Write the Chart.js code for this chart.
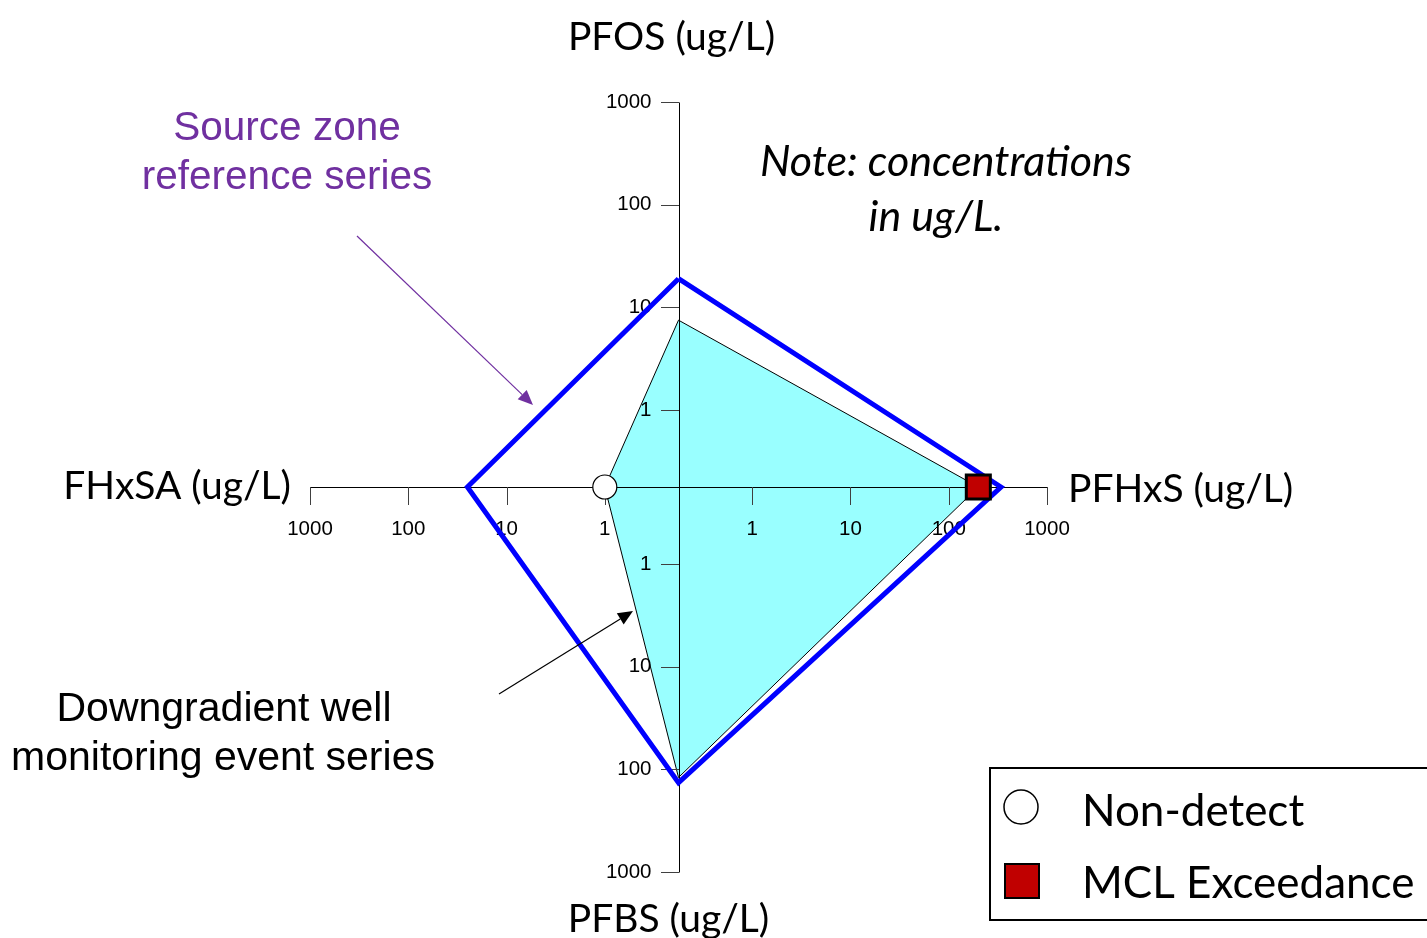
<!DOCTYPE html>
<html>
<head>
<meta charset="utf-8">
<script src="https://cdn.jsdelivr.net/npm/chart.js@4.4.1/dist/chart.umd.min.js"></script>
<style>
  html, body { margin: 0; padding: 0; background: #fff; }
  #wrap { position: relative; width: 1427px; height: 938px; overflow: hidden; }
</style>
</head>
<body>
<div id="wrap"><canvas id="c"></canvas></div>
<script>
// Four analytes, one per spoke: up, right, down, left
const categories = ['PFOS (ug/L)', 'PFHxS (ug/L)', 'PFBS (ug/L)', 'FHxSA (ug/L)'];
// Source zone reference series (ug/L)
const sourceZone = [19, 340, 135, 25];
// Downgradient well monitoring event series (ug/L)
const downgradient = [7.5, 200, 120, 1];
// Flags for the downgradient event
const nonDetect = [false, false, false, true];
const mclExceed = [false, true, false, false];
// Log tick marks on every spoke
const tickValues = [1, 10, 100, 1000];
const tickLabels = ['1', '10', '100', '1000'];

// spoke directions (x, y) for each category
const spokes = [[0, 1], [1, 0], [0, -1], [-1, 0]];
// the centre of the diagram sits 0.75 decade below 1 ug/L
const CENTER_DECADES = 0.75;
const MAX_R = Math.log10(1000) + CENTER_DECADES;

function radius(v) { return Math.log10(v) + CENTER_DECADES; }
function toPoint(v, i) {
  const r = radius(v);
  return { x: spokes[i][0] * r, y: spokes[i][1] * r };
}
function closedPolygon(values) {
  const pts = values.map(toPoint);
  pts.push(pts[0]);
  return pts;
}

const markerPoints = [], markerStyles = [], markerRadii = [], markerFill = [], markerBorder = [];
downgradient.forEach((v, i) => {
  if (nonDetect[i]) {
    markerPoints.push(toPoint(v, i)); markerStyles.push('circle');
    markerRadii.push(12); markerFill.push('#ffffff'); markerBorder.push(1.2);
  } else if (mclExceed[i]) {
    markerPoints.push(toPoint(v, i)); markerStyles.push('rect');
    markerRadii.push(17); markerFill.push('#C00000'); markerBorder.push(3);
  }
});

const CYAN_INDEX = 2;

function arrow(ctx, x1, y1, x2, y2, color) {
  ctx.save();
  ctx.strokeStyle = color; ctx.fillStyle = color; ctx.lineWidth = 1.2;
  const a = Math.atan2(y2 - y1, x2 - x1);
  const len = 15, half = 6.5;
  const bx = x2 - len * Math.cos(a), by = y2 - len * Math.sin(a);
  ctx.beginPath(); ctx.moveTo(x1, y1); ctx.lineTo(bx, by); ctx.stroke();
  ctx.beginPath();
  ctx.moveTo(x2, y2);
  ctx.lineTo(bx + half * Math.sin(a), by - half * Math.cos(a));
  ctx.lineTo(bx - half * Math.sin(a), by + half * Math.cos(a));
  ctx.closePath(); ctx.fill();
  ctx.restore();
}

const spokeAxes = {
  id: 'spokeAxes',
  afterDatasetDraw(chart, args) {
    if (args.index !== CYAN_INDEX) return;
    const ctx = chart.ctx, sx = chart.scales.x, sy = chart.scales.y;
    const x0 = sx.getPixelForValue(0), y0 = sy.getPixelForValue(0);
    ctx.save();
    ctx.strokeStyle = '#000'; ctx.lineWidth = 1;
    ctx.beginPath();
    ctx.moveTo(Math.round(sx.getPixelForValue(-MAX_R)) + 0.5, Math.round(y0) + 0.5);
    ctx.lineTo(Math.round(sx.getPixelForValue(MAX_R)) + 0.5, Math.round(y0) + 0.5);
    ctx.moveTo(Math.round(x0) + 0.5, Math.round(sy.getPixelForValue(MAX_R)) + 0.5);
    ctx.lineTo(Math.round(x0) + 0.5, Math.round(sy.getPixelForValue(-MAX_R)) + 0.5);
    ctx.stroke();
    ctx.strokeStyle = '#404040';
    ctx.beginPath();
    tickValues.forEach(v => {
      const r = radius(v);
      [-1, 1].forEach(s => {
        const tx = Math.round(sx.getPixelForValue(s * r)) + 0.5;
        ctx.moveTo(tx, Math.round(y0)); ctx.lineTo(tx, Math.round(y0) + 18);
        const ty = Math.round(sy.getPixelForValue(s * r)) + 0.5;
        ctx.moveTo(Math.round(x0) - 18, ty); ctx.lineTo(Math.round(x0), ty);
      });
    });
    ctx.stroke();
    ctx.fillStyle = '#000';
    ctx.font = '20.5px "Liberation Sans", Arial, sans-serif';
    tickValues.forEach((v, k) => {
      const r = radius(v);
      [-1, 1].forEach(s => {
        ctx.textAlign = 'center'; ctx.textBaseline = 'middle';
        ctx.fillText(tickLabels[k], sx.getPixelForValue(s * r), y0 + 42);
        ctx.textAlign = 'right';
        ctx.fillText(tickLabels[k], x0 - 27, sy.getPixelForValue(s * r));
      });
    });
    ctx.restore();
  },
  afterDraw(chart) {
    const ctx = chart.ctx, sx = chart.scales.x, sy = chart.scales.y;
    const x0 = sx.getPixelForValue(0), y0 = sy.getPixelForValue(0);
    ctx.save();
    // spoke titles
    ctx.fillStyle = '#000';
    ctx.font = '39px Lato, "Noto Sans", sans-serif';
    ctx.textBaseline = 'alphabetic';
    ctx.textAlign = 'center';
    ctx.fillText(categories[0], x0 - 7, 50);
    ctx.fillText(categories[2], x0 - 10, 932);
    ctx.textAlign = 'left';
    ctx.fillText(categories[1], sx.getPixelForValue(MAX_R) + 21, y0 + 15);
    ctx.textAlign = 'right';
    ctx.fillText(categories[3], sx.getPixelForValue(-MAX_R) - 19, y0 + 12);

    // series call-outs
    ctx.font = '40.5px "Liberation Sans", Arial, sans-serif';
    ctx.textAlign = 'center';
    ctx.fillStyle = '#7030A0';
    ctx.fillText('Source zone', 287, 140);
    ctx.fillText('reference series', 287, 189);
    arrow(ctx, 357, 236, 533, 405, '#7030A0');
    ctx.fillStyle = '#000';
    ctx.font = '41px "Liberation Sans", Arial, sans-serif';
    ctx.fillText('Downgradient well', 224, 721);
    ctx.fillText('monitoring event series', 223, 770);
    arrow(ctx, 499, 694, 633, 611, '#000');

    ctx.font = 'italic 43px Lato, "Noto Sans", sans-serif';
    ctx.fillText('Note: concentrations', 946, 176);
    ctx.fillText('in ug/L.', 936, 231);

    // legend box
    ctx.strokeStyle = '#000'; ctx.lineWidth = 2;
    ctx.strokeRect(990, 768, 460, 152);
    ctx.fillStyle = '#fff'; ctx.lineWidth = 1.5;
    ctx.beginPath(); ctx.arc(1021, 807, 17, 0, Math.PI * 2); ctx.fill(); ctx.stroke();
    ctx.fillStyle = '#C00000'; ctx.lineWidth = 2;
    ctx.fillRect(1005, 864, 34, 34); ctx.strokeRect(1005, 864, 34, 34);
    ctx.fillStyle = '#000';
    ctx.textAlign = 'left';
    ctx.font = '44px Lato, "Noto Sans", sans-serif';
    ctx.fillText('Non-detect', 1082, 826);
    ctx.fillText('MCL Exceedance', 1082, 898);
    ctx.restore();
  }
};

new Chart(document.getElementById('c'), {
  type: 'line',
  data: {
    datasets: [
      {
        label: 'Flags',
        data: markerPoints,
        showLine: false,
        pointStyle: markerStyles,
        pointRadius: markerRadii,
        pointBackgroundColor: markerFill,
        pointBorderColor: '#000',
        pointBorderWidth: markerBorder,
        clip: false
      },
      {
        label: 'Source zone reference series',
        data: closedPolygon(sourceZone),
        borderColor: '#0000FF',
        borderWidth: 5,
        borderJoinStyle: 'miter',
        fill: false,
        pointRadius: 0,
        tension: 0,
        clip: false
      },
      {
        label: 'Downgradient well monitoring event series',
        data: closedPolygon(downgradient),
        borderColor: '#000',
        borderWidth: 1,
        backgroundColor: '#99FFFF',
        fill: 'shape',
        pointRadius: 0,
        tension: 0,
        clip: false
      }
    ]
  },
  options: {
    responsive: true,
    maintainAspectRatio: false,
    animation: false,
    layout: { padding: { left: 310, right: 380, top: 102, bottom: 66 } },
    scales: {
      x: { type: 'linear', min: -MAX_R, max: MAX_R, display: false },
      y: { type: 'linear', min: -MAX_R, max: MAX_R, display: false }
    },
    plugins: { legend: { display: false }, tooltip: { enabled: false } }
  },
  plugins: [spokeAxes]
});
</script>
</body>
</html>
